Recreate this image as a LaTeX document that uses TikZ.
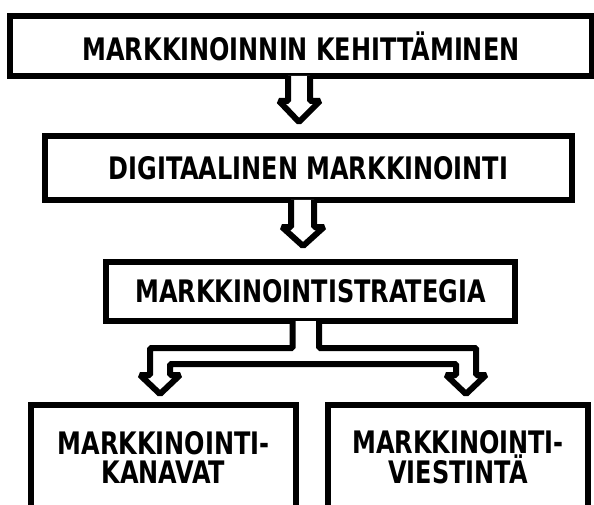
\documentclass[tikz,border=0pt]{standalone}
\usepackage{fontspec}
\setmainfont{DejaVu Sans Condensed}[FakeStretch=0.86]
\usepackage{tikz}
\usetikzlibrary{calc}
\tikzset{
  stagebox/.style={rectangle, draw=black, line width=6pt, fill=white, align=center,
    inner sep=0pt, font=\fontsize{31}{29}\selectfont\bfseries},
  hollow/.style={draw=black, fill=white, line width=6pt, line join=bevel},
}

\begin{document}
\begin{tikzpicture}[x=1pt, y=-1pt]
  \useasboundingbox (0,0) rectangle (594,505);
  \clip (0,0) rectangle (594,505);
  \node[stagebox, minimum width=582pt, minimum height=60pt] (kehitys) at (301,46) {MARKKINOINNIN KEHITTÄMINEN};
  \node[stagebox, minimum width=527pt, minimum height=64pt] (digi) at (308.5,168) {DIGITAALINEN MARKKINOINTI};
  \node[stagebox, minimum width=409pt, minimum height=59pt] (strat) at (310.5,291.5) {MARKKINOINTISTRATEGIA};
  \node[stagebox, minimum width=265pt, minimum height=105pt] (kanavat) at (163.5,457.5) {MARKKINOINTI-\\KANAVAT};
  \node[stagebox, minimum width=260pt, minimum height=105pt] (viestinta) at (458,457.5) {MARKKINOINTI-\\VIESTINTÄ};
  % hollow arrows, drawn over the box borders
  \draw[hollow] ($(kehitys.south)+(-13,-3)$) -- ++(0,25) -- ++(-9,0) -- ++(20,21) -- ++(21,-21)
    -- ++(-10,0) -- ++(0,-25);
  \draw[hollow] ($(digi.south)+(-17.5,-3)$) -- ++(0,27) -- ++(-9,0) -- ++(21,19) -- ++(21,-19)
    -- ++(-10,0) -- ++(0,-27);
  % split arrow to both channels
  \draw[hollow] ($(strat.south)+(-18,-3)$) -- ++(0,27) -- ++(-142.5,0) -- ++(0,27) -- ++(-10,0)
    -- ++(20,19) -- ++(20,-19) -- ++(-10,0) -- ++(0,-11) -- ++(286,0) -- ++(0,11) -- ++(-10,0)
    -- ++(20,19) -- ++(20,-19) -- ++(-10,0) -- ++(0,-27) -- ++(-157,0) -- ++(0,-27);
\end{tikzpicture}
\end{document}
